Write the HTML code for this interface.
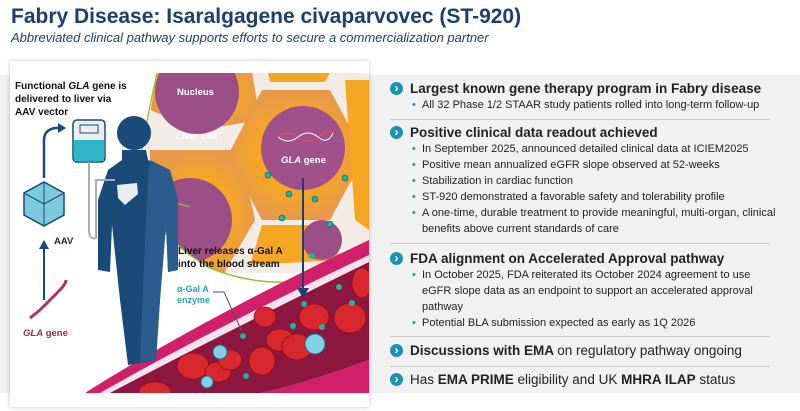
<!DOCTYPE html>
<html><head><meta charset="utf-8"><style>
*{margin:0;padding:0;box-sizing:border-box}
body{width:800px;height:411px;background:#fff;font-family:"Liberation Sans",sans-serif;position:relative;overflow:hidden}
.t{position:absolute;left:11px;top:5px;font-size:21px;font-weight:bold;color:#1b3f6e}
.s{position:absolute;left:11px;top:30px;font-size:13px;font-style:italic;color:#1b3f6e}
.band{position:absolute;left:0;top:75px;width:800px;height:318px;background:#f1f1f1}
.card{position:absolute;left:10px;top:61px;width:359px;height:346px;background:#fff;box-shadow:0 0 4px rgba(0,0,0,.25)}
.r{position:absolute;left:390px;width:390px;color:#222}
.h{font-size:13.5px;font-weight:bold;padding-left:20px;position:relative;line-height:16px}
.h::before{content:"›";position:absolute;left:0;top:1px;width:13px;height:13px;border-radius:50%;background:#1c93b0;color:#fff;font-size:12px;line-height:12px;text-align:center;font-weight:bold}
.b{font-size:11px;padding-left:32px;position:relative;line-height:16px;color:#222}
.b::before{content:"•";position:absolute;left:22px;color:#1c93b0}
.sep{position:absolute;left:390px;width:380px;height:1px;background:#ccc}
</style></head><body>
<div class="t">Fabry Disease: Isaralgagene civaparvovec (ST-920)</div>
<div class="s">Abbreviated clinical pathway supports efforts to secure a commercialization partner</div>
<div class="band"></div>
<div class="card">
<svg width="359" height="346" viewBox="10 61 359 346" style="position:absolute;left:0;top:0">
<defs>
<radialGradient id="cell"><stop offset="0.55" stop-color="#f5a623"/><stop offset="1" stop-color="#e89a4a"/></radialGradient>
<clipPath id="cc"><path d="M157 73 L369 73 L369 260 Q300 300 210 268 Q150 230 137 190 Z"/></clipPath>
<clipPath id="all"><rect x="10" y="73" width="359" height="320"/></clipPath>
</defs>
<g clip-path="url(#all)">
<rect x="10" y="73" width="359" height="320" fill="#fff"/>
<g clip-path="url(#cc)">
<rect x="140" y="73" width="230" height="200" fill="#f3ece6"/>
<path d="M160 60 L250 60 L260 120 L200 130 L150 110Z" fill="url(#cell)"/>
<circle cx="197" cy="92" r="42" fill="#9c4f86"/>
<path d="M150 150 L240 150 L255 220 L220 280 L150 270Z" fill="url(#cell)"/>
<circle cx="190" cy="220" r="42" fill="#9c4f86"/>
<polygon points="262,90 330,90 365,155 330,220 262,220 228,155" fill="url(#cell)"/>
<circle cx="303" cy="148" r="42" fill="#a0508a"/>
<path d="M268 73 L330 73 L325 82 L270 82Z" fill="#f5a623"/>
<path d="M345 80 L369 80 L369 230 L355 220Z" fill="#f5a623"/>
<path d="M262 225 L330 225 L340 260 L250 265Z" fill="#f5a623"/>
<circle cx="322" cy="240" r="20" fill="#9c4f86"/>
<g fill="#1fb39a" stroke="#0a6656" stroke-width=".6"><circle cx="268" cy="175" r="3"/><circle cx="289" cy="194" r="3"/><circle cx="315" cy="199" r="3"/><circle cx="345" cy="178" r="3"/><circle cx="282" cy="218" r="3"/><circle cx="330" cy="224" r="3"/></g>
</g>
<path d="M157 73 Q140 150 137 190 Q160 240 210 268 Q290 300 369 260" fill="none" stroke="#8cc63f" stroke-width="1.5"/>
<line x1="137" y1="192" x2="190" y2="207" stroke="#8cc63f" stroke-width="1.2"/>
<text x="177" y="95" font-size="9.5" font-weight="bold" fill="#fff">Nucleus</text>
<text x="176" y="139" font-size="9.5" font-weight="bold" fill="#fff">Liver cell</text>
<text x="281" y="163" font-size="9.5" font-weight="bold" fill="#fff"><tspan font-style="italic">GLA</tspan> gene</text>
<path d="M278 137 q10 -8 20 0 t20 0 t15 -4" fill="none" stroke="#d24b6e" stroke-width="2"/>
<path d="M278 137 q10 8 20 0 t20 0 t15 -4" fill="none" stroke="#fff" stroke-width="1"/>
<path d="M85 393 Q200 320 369 240 L369 393Z" fill="#d21f6a"/>
<path d="M100 393 Q210 330 369 255 L369 393Z" fill="#fbe2ec"/>
<path d="M110 393 Q220 335 369 262 L369 360 Q300 385 260 393Z" fill="#8e1740"/>
<path d="M260 393 Q300 385 369 360 L369 393Z" fill="#d21f6a"/>
<g fill="#d9272e" stroke="#8a1020" stroke-width=".8">
<ellipse cx="193" cy="366" rx="16" ry="13"/><ellipse cx="218" cy="372" rx="13" ry="10"/>
<ellipse cx="230" cy="360" rx="12" ry="10"/><ellipse cx="262" cy="361" rx="13" ry="14"/>
<ellipse cx="280" cy="340" rx="14" ry="11"/><ellipse cx="297" cy="347" rx="15" ry="13"/>
<ellipse cx="265" cy="317" rx="11" ry="10"/><ellipse cx="314" cy="317" rx="15" ry="13"/>
<ellipse cx="350" cy="318" rx="16" ry="15"/><ellipse cx="362" cy="283" rx="10" ry="15"/>
<ellipse cx="155" cy="392" rx="16" ry="10"/>
</g>
<g fill="#7fd0e6" stroke="#1d6f8c" stroke-width="1"><circle cx="220" cy="352" r="7"/><circle cx="315" cy="344" r="10"/><circle cx="207" cy="382" r="6"/></g>
<g fill="#1fb39a"><circle cx="312" cy="256" r="3"/><circle cx="339" cy="287" r="3"/><circle cx="304" cy="304" r="3"/><circle cx="293" cy="326" r="3"/><circle cx="322" cy="327" r="3"/><circle cx="352" cy="303" r="3"/><circle cx="243" cy="336" r="3"/><circle cx="246" cy="376" r="3"/></g>
<line x1="303" y1="178" x2="303" y2="290" stroke="#1b3f6e" stroke-width="2"/>
<path d="M297 288 L303 298 L309 288Z" fill="#1b3f6e"/>
<path d="M213 292 L224 292 L243 334" fill="none" stroke="#555" stroke-width="1"/>
<circle cx="134" cy="133" r="17" fill="#1a4a78"/>
<path d="M122 150 L146 150 L148 160 L170 170 L178 200 L178 270 L168 272 L166 225 L160 300 L156 360 L128 365 L120 300 L112 225 L110 272 L98 270 L98 200 L108 170 L122 160Z" fill="#1a4a78"/>
<path d="M150 160 L170 170 L178 200 L178 270 L168 272 L166 225 L160 300 L156 360 L140 362 L145 240 L148 180Z" fill="#2a5d8e"/>
<path d="M117 185 L137 183 L138 194 L125 205 L118 198Z" fill="#fff" opacity=".9"/>
<rect x="73" y="120" width="32" height="42" rx="4" fill="#e9eef2" stroke="#1a4a78" stroke-width="1.5"/>
<rect x="74" y="140" width="30" height="21" fill="#2cb6c8"/>
<rect x="80" y="125" width="18" height="8" fill="none" stroke="#1a4a78"/>
<path d="M89 162 L89 230 Q89 240 96 238 L96 180 L115 180" fill="none" stroke="#aab" stroke-width="2"/>
<polygon points="44,182 64,193 64,215 44,226 24,215 24,193" fill="#7ec8dc" stroke="#1a4a78" stroke-width="1.5"/>
<path d="M24 193 L44 204 L64 193 M44 204 L44 226 M44 182 L44 204" stroke="#1a4a78" fill="none"/>
<path d="M44 178 L44 140 Q44 130 55 128 L60 128" fill="none" stroke="#1a4a78" stroke-width="2.5"/>
<path d="M58 123 L66 128 L58 133Z" fill="#1a4a78"/>
<line x1="44" y1="300" x2="44" y2="248" stroke="#1a4a78" stroke-width="2"/>
<path d="M39 249 L44 240 L49 249Z" fill="#1a4a78"/>
<path d="M30 318 q8 -6 14 -12 t14 -14 t8 -12" fill="none" stroke="#b0345e" stroke-width="3"/>
<text x="54" y="244" font-size="9.5" font-weight="bold" fill="#1a2a3a">AAV</text>
<text x="23" y="336" font-size="9.5" font-weight="bold" fill="#9c2a50"><tspan font-style="italic">GLA</tspan> gene</text>
<text font-size="10" font-weight="bold" fill="#111"><tspan x="15" y="89">Functional <tspan font-style="italic">GLA</tspan> gene is</tspan><tspan x="15" y="102">delivered to liver via</tspan><tspan x="15" y="115">AAV vector</tspan></text>
<text font-size="10" font-weight="bold" fill="#111"><tspan x="178" y="254">Liver releases α-Gal A</tspan><tspan x="178" y="267">into the blood stream</tspan></text>
<text font-size="9" font-weight="bold" fill="#1fa8c0"><tspan x="177" y="292">α-Gal A</tspan><tspan x="177" y="303">enzyme</tspan></text>
</g>
</svg>
</div>
<div class="r" style="top:81px"><div class="h">Largest known gene therapy program in Fabry disease</div><div class="b">All 32 Phase 1/2 STAAR study patients rolled into long-term follow-up</div></div>
<div class="sep" style="top:119px"></div>
<div class="r" style="top:125px"><div class="h">Positive clinical data readout achieved</div>
<div class="b">In September 2025, announced detailed clinical data at ICIEM2025</div>
<div class="b">Positive mean annualized eGFR slope observed at 52-weeks</div>
<div class="b">Stabilization in cardiac function</div>
<div class="b">ST-920 demonstrated a favorable safety and tolerability profile</div>
<div class="b">A one-time, durable treatment to provide meaningful, multi-organ, clinical<br>benefits above current standards of care</div></div>
<div class="sep" style="top:243px"></div>
<div class="r" style="top:251px"><div class="h">FDA alignment on Accelerated Approval pathway</div>
<div class="b">In October 2025, FDA reiterated its October 2024 agreement to use<br>eGFR slope data as an endpoint to support an accelerated approval<br>pathway</div>
<div class="b">Potential BLA submission expected as early as 1Q 2026</div></div>
<div class="sep" style="top:336px"></div>
<div class="r" style="top:343px"><div class="h">Discussions with EMA <span style="font-weight:normal">on regulatory pathway ongoing</span></div></div>
<div class="sep" style="top:366px"></div>
<div class="r" style="top:372px"><div class="h"><span style="font-weight:normal">Has </span>EMA PRIME<span style="font-weight:normal"> eligibility and UK </span>MHRA ILAP<span style="font-weight:normal"> status</span></div></div>
</body></html>
